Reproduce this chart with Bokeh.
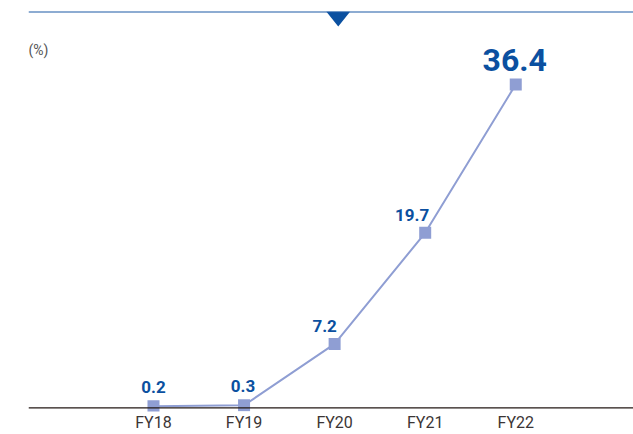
from bokeh.plotting import figure
from bokeh.models import Range1d, Span, Label, ColumnDataSource
from bokeh.core.properties import value
from bokeh.embed import file_html
from bokeh.resources import INLINE

# ---- data ----
categories = ["FY18", "FY19", "FY20", "FY21", "FY22"]
ratio = [0.2, 0.3, 7.2, 19.7, 36.4]
labels = ["0.2", "0.3", "7.2", "19.7", "36.4"]

# ---- styling (not data) ----
label_dx = [0, -1, -10, -13, -1]
label_dy = [19, 19, 18, 18, 24]
label_size = ["17px", "17px", "17px", "17px", "32px"]
FONT = "Roboto"
LINE_C = "#8f9ed3"
LABEL_C = "#0b50a0"
TEXT_C = "#3b3535"

xs = list(range(len(categories)))
Y_TOP = 44.6

p = figure(width=633, height=434, output_backend="svg", toolbar_location=None,
           x_range=Range1d(-1.38, 5.30), y_range=Range1d(-0.4, Y_TOP),
           min_border_left=28, min_border_right=0, min_border_top=11, min_border_bottom=0)
p.outline_line_color = None
p.grid.visible = False
p.yaxis.visible = False
p.background_fill_color = "white"
p.border_fill_color = "white"

ax = p.xaxis[0]
ax.ticker = xs
ax.major_label_overrides = {i: c for i, c in enumerate(categories)}
ax.axis_line_color = None
ax.major_tick_line_color = None
ax.minor_tick_line_color = None
ax.major_tick_out = 0
ax.major_tick_in = 0
ax.minor_tick_out = 0
ax.minor_tick_in = 0
ax.major_label_standoff = 1
ax.major_label_text_font = FONT
ax.major_label_text_font_size = "16px"
ax.major_label_text_color = TEXT_C

# baseline and top rule
p.add_layout(Span(location=0, dimension="width", line_color="#231815", line_width=1.2))
p.add_layout(Span(location=Y_TOP, dimension="width", line_color="#1d5aa6", line_width=2))

# decorative pointer triangle at the top rule
px_x = 605 / 6.68
unit_y = 1 / 8.9
tx = 2.04
hw = 12 / px_x
th = 15 * unit_y
p.patch([tx - hw, tx + hw, tx], [Y_TOP, Y_TOP, Y_TOP - th], color="#0b50a0", line_color=None)

src = ColumnDataSource(dict(x=xs, y=ratio, lab=labels, dx=label_dx,
                            dy=[-d for d in label_dy], fs=label_size))
p.line("x", "y", source=src, line_color=LINE_C, line_width=2)
p.scatter("x", "y", source=src, marker="square", size=12, fill_color=LINE_C, line_color=None)
p.text("x", "y", text="lab", source=src, x_offset="dx", y_offset="dy",
       text_font=value(FONT), text_font_style="bold", text_font_size="fs",
       text_color=LABEL_C, text_align="center", text_baseline="middle")

p.add_layout(Label(x=-1.38, y=Y_TOP - 39 * unit_y, text="(%)",
                   text_font=FONT, text_font_size="14px", text_color="#555555",
                   text_baseline="middle"))

open("out.html", "w").write(file_html(p, INLINE))
